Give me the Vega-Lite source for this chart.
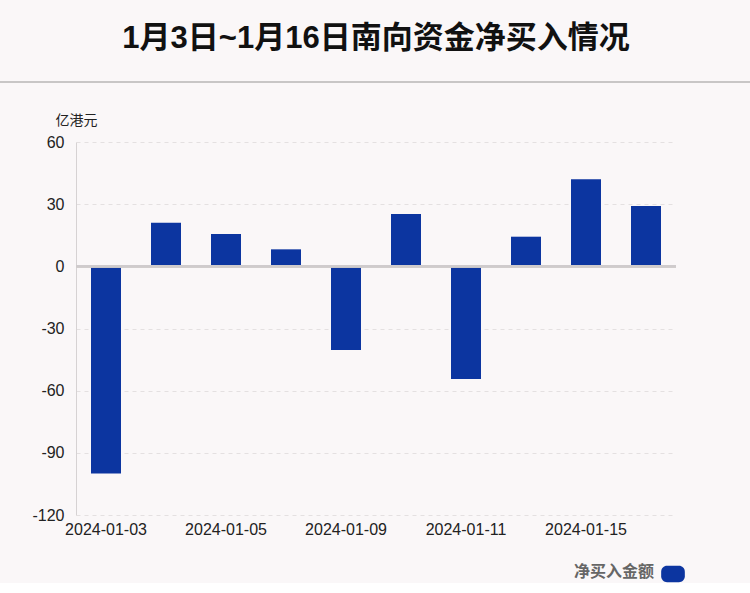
{
  "$schema": "https://vega.github.io/schema/vega-lite/v6.json",
  "background": "#faf7f8",
  "padding": {"top": 22, "left": 0, "right": 0, "bottom": 0},
  "spacing": 29,
  "columns": 1,
  "align": "each",
  "center": true,
  "config": {
    "view": {"stroke": null},
    "font": "Liberation Sans, Noto Sans CJK SC"
  },
  "concat": [
    {
      "title": {
        "text": "1月3日~1月16日南向资金净买入情况",
        "fontSize": 31,
        "fontWeight": "bold",
        "font": "Liberation Sans, Noto Sans CJK SC",
        "color": "#111111",
        "anchor": "middle",
        "frame": "group",
        "offset": 27
      },
      "width": 750,
      "height": 0.01,
      "view": {"stroke": "#c8c6c6", "strokeWidth": 2},
      "data": {"values": []},
      "mark": {"type": "point", "opacity": 0},
      "encoding": {}
    },
    {
      "width": 600,
      "height": 373,
      "data": {
        "values": [
          {"date": "2024-01-03", "value": -100.0, "series": "净买入金额"},
          {"date": "2024-01-04", "value": 21.0, "series": "净买入金额"},
          {"date": "2024-01-05", "value": 15.6, "series": "净买入金额"},
          {"date": "2024-01-08", "value": 8.2, "series": "净买入金额"},
          {"date": "2024-01-09", "value": -40.4, "series": "净买入金额"},
          {"date": "2024-01-10", "value": 25.2, "series": "净买入金额"},
          {"date": "2024-01-11", "value": -54.4, "series": "净买入金额"},
          {"date": "2024-01-12", "value": 14.3, "series": "净买入金额"},
          {"date": "2024-01-15", "value": 42.0, "series": "净买入金额"},
          {"date": "2024-01-16", "value": 29.1, "series": "净买入金额"}
        ]
      },
      "layer": [
        {
          "mark": {"type": "bar"},
          "encoding": {
            "x": {
              "field": "date",
              "type": "ordinal",
              "sort": null,
              "scale": {"paddingInner": 0.5, "paddingOuter": 0.25},
              "axis": {
                "values": ["2024-01-03", "2024-01-05", "2024-01-09", "2024-01-11", "2024-01-15"],
                "title": null,
                "domain": false,
                "ticks": false,
                "grid": false,
                "labelAngle": 0,
                "labelFontSize": 16,
                "labelColor": "#222222",
                "labelPadding": 6
              }
            },
            "y": {
              "field": "value",
              "type": "quantitative",
              "scale": {"domain": [-120, 60], "nice": false, "zero": false},
              "axis": {
                "values": [-120, -90, -60, -30, 0, 30, 60],
                "labelExpr": "toString(datum.value)",
                "title": "亿港元",
                "titleAngle": 0,
                "titleAlign": "left",
                "titleBaseline": "bottom",
                "titleX": -21,
                "titleY": -15,
                "titleFontSize": 14,
                "titleFontWeight": "normal",
                "titleColor": "#222222",
                "labelFontSize": 16,
                "labelColor": "#222222",
                "labelPadding": 12,
                "ticks": false,
                "domainColor": "#d6d2d3",
                "gridColor": "#e4e0e1",
                "gridDash": [4, 4],
                "minExtent": 75,
                "maxExtent": 75
              }
            },
            "color": {
              "field": "series",
              "type": "nominal",
              "scale": {"range": ["#0c35a0"]},
              "legend": {
                "title": "净买入金额",
                "titleOrient": "left",
                "titleFontSize": 16,
                "titleFontWeight": "bold",
                "titleColor": "#666666",
                "titlePadding": 6,
                "titleBaseline": "middle",
                "labelExpr": "''",
                "labelOffset": 0,
                "symbolType": "M-0.5,-0.7H0.5A0.5,0.5,0,0,1,1,-0.2V0.2A0.5,0.5,0,0,1,0.5,0.7H-0.5A0.5,0.5,0,0,1,-1,0.2V-0.2A0.5,0.5,0,0,1,-0.5,-0.7Z",
                "symbolSize": 560,
                "symbolStrokeWidth": 0,
                "symbolOpacity": 1,
                "orient": "none",
                "legendX": 573,
                "legendY": 480
              }
            }
          }
        },
        {
          "mark": {"type": "rule", "color": "#cfcbcc", "strokeWidth": 2},
          "encoding": {"y": {"datum": 0}}
        }
      ]
    }
  ]
}
